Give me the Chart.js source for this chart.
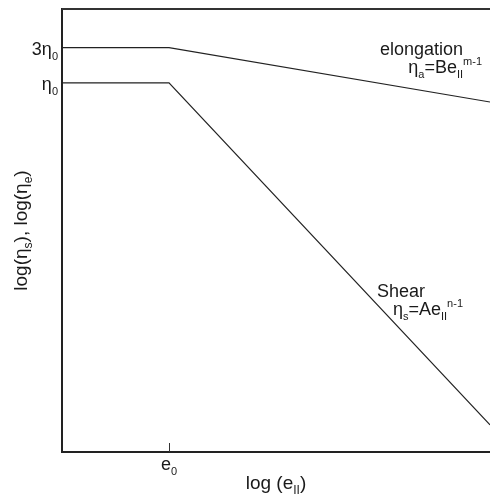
<!DOCTYPE html>
<html>
<head>
<meta charset="utf-8">
<script src="https://cdn.jsdelivr.net/npm/chart.js@4.4.1/dist/chart.umd.min.js"></script>
<style>
  html, body { margin: 0; padding: 0; background: #fff; }
  #wrap { width: 490px; height: 497px; }
</style>
</head>
<body>
<div id="wrap"><canvas id="viscChart"></canvas></div>
<script>
// strain rate (log e_II), e0 = 1
const strainRate = [0.1, 1, 1000];
// shear viscosity: plateau eta0, then power law A e^(n-1)
const shearVisc = [1, 1, 2.33e-5];
// elongational viscosity: plateau 3 eta0, then power law B e^(m-1)
const elongVisc = [3, 3, 0.55];

// tick positions and their labels, as [text, 'sub'|'sup'|undefined] segments
const xTickValues = [1];
const xTickLabels = [[['e'], ['0', 'sub']]];
const yTickValues = [3, 1];
const yTickLabels = [[['3η'], ['0', 'sub']], [['η'], ['0', 'sub']]];

const xTitle = [['log (e'], ['II', 'sub'], [')']];
const yTitle = [['log(η'], ['s', 'sub'], ['), log(η'], ['e', 'sub'], [')']];

const elongLabel = [['elongation']];
const elongLaw = [['η'], ['a', 'sub'], ['=Be'], ['II', 'sub'], ['m-1', 'sup']];
const shearLabel = [['Shear']];
const shearLaw = [['η'], ['s', 'sub'], ['=Ae'], ['II', 'sub'], ['n-1', 'sup']];

const FONT = '"Liberation Sans", Arial, sans-serif';
const INK = '#1a1a1a';

function segFont(size, mode) {
  return (mode ? Math.round(size * 0.62) : size) + 'px ' + FONT;
}

function richWidth(ctx, segs, size) {
  let w = 0;
  segs.forEach(([t, mode]) => {
    ctx.font = segFont(size, mode);
    w += ctx.measureText(t).width;
  });
  return w;
}

// draws text with sub/superscripts; align 'left' | 'center' | 'right'
function drawRich(ctx, segs, x, y, size, align) {
  const w = richWidth(ctx, segs, size);
  let cx = align === 'right' ? x - w : align === 'center' ? x - w / 2 : x;
  ctx.textBaseline = 'alphabetic';
  ctx.textAlign = 'left';
  segs.forEach(([t, mode]) => {
    ctx.font = segFont(size, mode);
    let dy = 0;
    if (mode === 'sub') dy = size * 0.28;
    if (mode === 'sup') dy = -size * 0.45;
    ctx.fillText(t, cx, y + dy);
    cx += ctx.measureText(t).width;
  });
}

const decorations = {
  id: 'decorations',
  afterDraw(chart) {
    const { ctx, chartArea: area, scales: { x, y } } = chart;
    ctx.save();
    ctx.fillStyle = INK;
    ctx.strokeStyle = '#333';

    // top frame line
    ctx.lineWidth = 2;
    ctx.beginPath();
    ctx.moveTo(area.left, area.top);
    ctx.lineTo(area.right, area.top);
    ctx.stroke();

    // inward tick marks on the x axis
    ctx.lineWidth = 1;
    xTickValues.forEach(v => {
      const px = Math.round(x.getPixelForValue(v)) + 0.5;
      ctx.beginPath();
      ctx.moveTo(px, area.bottom);
      ctx.lineTo(px, area.bottom - 9);
      ctx.stroke();
    });

    xTickValues.forEach((v, i) => {
      drawRich(ctx, xTickLabels[i], x.getPixelForValue(v), area.bottom + 18, 18, 'center');
    });
    yTickValues.forEach((v, i) => {
      drawRich(ctx, yTickLabels[i], area.left - 4, y.getPixelForValue(v) + 7, 18, 'right');
    });

    // axis titles
    drawRich(ctx, xTitle, (area.left + area.right) / 2, area.bottom + 37, 19, 'center');
    ctx.save();
    ctx.translate(27, (area.top + area.bottom) / 2);
    ctx.rotate(-Math.PI / 2);
    drawRich(ctx, yTitle, 0, 0, 19, 'center');
    ctx.restore();

    // curve annotations, placed relative to the end of each curve
    const last = strainRate.length - 1;
    const ex = x.getPixelForValue(strainRate[last]);
    const eyE = y.getPixelForValue(elongVisc[last]);
    drawRich(ctx, elongLabel, ex - 27, eyE - 47, 18, 'right');
    drawRich(ctx, elongLaw, ex - 8, eyE - 29, 18, 'right');

    drawRich(ctx, shearLabel, area.right - 65, area.top + 288, 18, 'right');
    drawRich(ctx, shearLaw, area.right - 27, area.top + 306, 18, 'right');

    ctx.restore();
  }
};

new Chart(document.getElementById('viscChart'), {
  type: 'line',
  data: {
    datasets: [
      {
        label: 'elongation',
        data: strainRate.map((v, i) => ({ x: v, y: elongVisc[i] })),
        borderColor: '#222',
        borderWidth: 1.2,
        pointRadius: 0,
        tension: 0
      },
      {
        label: 'Shear',
        data: strainRate.map((v, i) => ({ x: v, y: shearVisc[i] })),
        borderColor: '#222',
        borderWidth: 1.2,
        pointRadius: 0,
        tension: 0
      }
    ]
  },
  options: {
    responsive: true,
    maintainAspectRatio: false,
    animation: false,
    layout: { padding: { top: 9, right: 0, left: 0, bottom: 0 } },
    plugins: {
      legend: { display: false },
      tooltip: { enabled: false }
    },
    scales: {
      x: {
        type: 'logarithmic',
        min: 0.1,
        max: 1000,
        grid: { display: false, drawTicks: false },
        border: { display: true, color: '#222', width: 2 },
        ticks: { display: false },
        afterFit(scale) { scale.height = 45; }
      },
      y: {
        type: 'logarithmic',
        min: 1e-5,
        max: 10,
        grid: { display: false, drawTicks: false },
        border: { display: true, color: '#222', width: 2 },
        ticks: { display: false },
        afterFit(scale) { scale.width = 62; }
      }
    }
  },
  plugins: [decorations]
});
</script>
</body>
</html>
